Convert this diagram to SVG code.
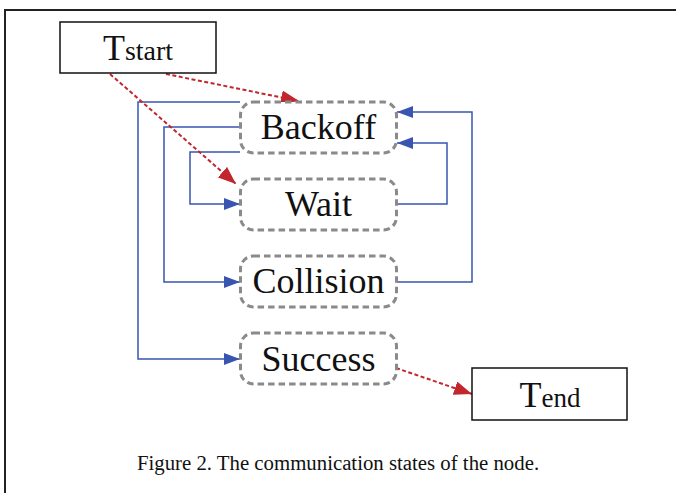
<svg xmlns="http://www.w3.org/2000/svg" width="676" height="493" viewBox="0 0 676 493">
<style>
.frame{fill:none;stroke:#222;stroke-width:2}
.state{fill:#fff;stroke:#8a8a8a;stroke-width:3;stroke-dasharray:6.5 4}
.term{fill:#fff;stroke:#111;stroke-width:1.5}
.lbl{font-family:"Liberation Serif","Times New Roman",serif;font-size:36px;fill:#111;text-anchor:middle}
.blue{fill:none;stroke:#3a55b0;stroke-width:1.5}
.red{fill:none;stroke:#c1272d;stroke-width:2;stroke-dasharray:4 2.5}
.cap{font-family:"Liberation Serif","Times New Roman",serif;font-size:20.8px;fill:#111;text-anchor:middle}
</style>
<defs>
<marker id="ab" viewBox="0 0 16 12" refX="16" refY="6" markerWidth="16" markerHeight="12" markerUnits="userSpaceOnUse" orient="auto">
<path d="M0,0 L16,6 L0,12 Z" fill="#3a55b0"/>
</marker>
<marker id="ar" viewBox="0 0 18 14" refX="18" refY="7" markerWidth="18" markerHeight="14" markerUnits="userSpaceOnUse" orient="auto">
<path d="M0,0 L18,7 L0,14 Z" fill="#c1272d"/>
</marker>
</defs>
<rect width="676" height="493" fill="#fff"/>
<path class="frame" d="M5,493 V10 H676"/>
<g id="connectors">
<path class="blue" d="M240,102 H138 V359 H240" marker-end="url(#ab)"/>
<path class="blue" d="M240,127 H164 V282 H240" marker-end="url(#ab)"/>
<path class="blue" d="M240,152 H190 V204 H240" marker-end="url(#ab)"/>
<path class="blue" d="M397,204 H447 V143 H397" marker-end="url(#ab)"/>
<path class="blue" d="M397,282 H472 V112 H397" marker-end="url(#ab)"/>
<path class="red" d="M166,74 L299,101" marker-end="url(#ar)"/>
<path class="red" d="M110,74 L236,184" marker-end="url(#ar)"/>
<path class="red" d="M396,368 L472,394" marker-end="url(#ar)"/>
</g>
<g id="tstart">
<rect class="term" x="60" y="22" width="156" height="51"/>
<text x="138" y="60" class="lbl"><tspan>T</tspan><tspan font-size="28">start</tspan></text>
</g>
<g id="backoff">
<rect class="state" x="240.5" y="102" width="156" height="51" rx="13"/>
<text x="318.5" y="138.5" class="lbl">Backoff</text>
</g>
<g id="wait">
<rect class="state" x="240.5" y="179" width="156" height="51" rx="13"/>
<text x="318.5" y="216" class="lbl">Wait</text>
</g>
<g id="collision">
<rect class="state" x="240.5" y="256" width="156" height="51" rx="13"/>
<text x="318.5" y="293" class="lbl">Collision</text>
</g>
<g id="success">
<rect class="state" x="240.5" y="333" width="156" height="51" rx="13"/>
<text x="318.5" y="371" class="lbl">Success</text>
</g>
<g id="tend">
<rect class="term" x="472" y="368" width="155" height="52"/>
<text x="550" y="407" class="lbl"><tspan>T</tspan><tspan font-size="27">end</tspan></text>
</g>
<text x="338" y="470" class="cap">Figure 2. The communication states of the node.</text>
</svg>
